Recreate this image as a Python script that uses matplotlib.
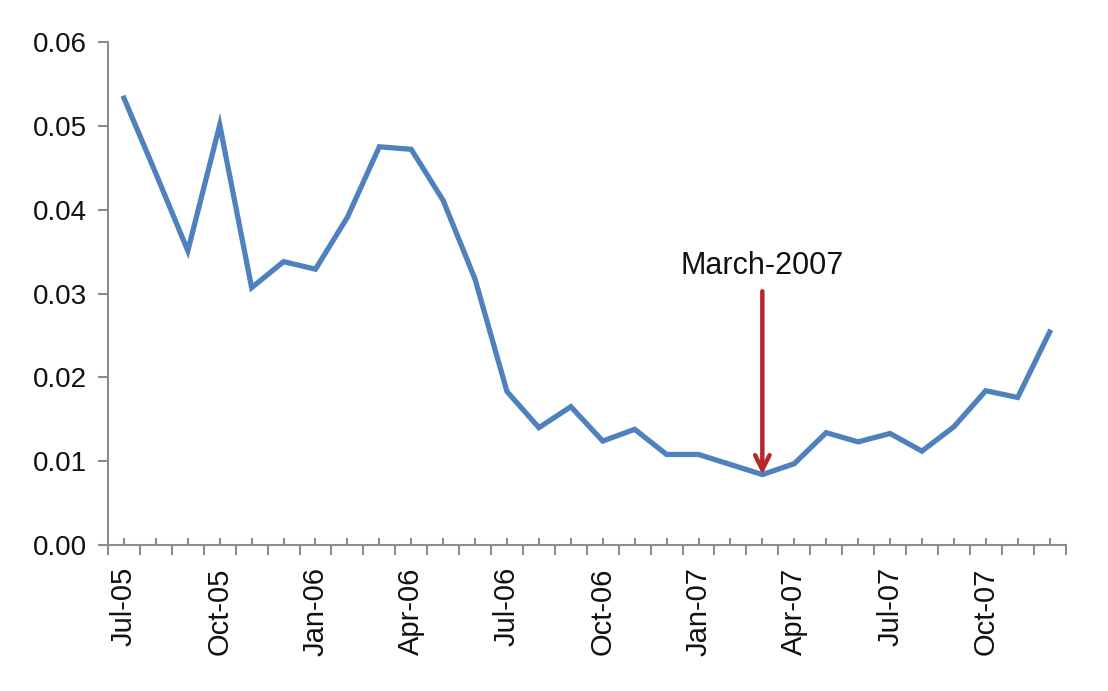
import matplotlib
matplotlib.use("Agg")
import matplotlib.pyplot as plt
import numpy as np

plt.rcParams['font.family'] = ['Liberation Sans', 'DejaVu Sans']

months = ["Jul-05", "Aug-05", "Sep-05", "Oct-05", "Nov-05", "Dec-05",
          "Jan-06", "Feb-06", "Mar-06", "Apr-06", "May-06", "Jun-06",
          "Jul-06", "Aug-06", "Sep-06", "Oct-06", "Nov-06", "Dec-06",
          "Jan-07", "Feb-07", "Mar-07", "Apr-07", "May-07", "Jun-07",
          "Jul-07", "Aug-07", "Sep-07", "Oct-07", "Nov-07", "Dec-07"]
values = [0.0533, 0.0443, 0.0351, 0.0501, 0.0307, 0.0338,
          0.0329, 0.0391, 0.0475, 0.0472, 0.0411, 0.0317,
          0.0183, 0.0140, 0.0165, 0.0124, 0.0138, 0.0108,
          0.0108, 0.0096, 0.0084, 0.0097, 0.0134, 0.0123,
          0.0133, 0.0112, 0.0141, 0.0184, 0.0176, 0.0254]
label_every = 3
yticks = [0.00, 0.01, 0.02, 0.03, 0.04, 0.05, 0.06]
annot_label = "March-2007"
annot_index = 20

fig = plt.figure(figsize=(11.08, 6.91), dpi=100)
ax = fig.add_axes([0.0975, 0.2113, 0.9617 - 0.0975, 0.9392 - 0.2113])

x = np.arange(len(months))
ax.plot(x, values, color='#4F81BD', lw=3.8, solid_joinstyle='miter')

ax.set_xlim(-0.5, len(months) - 0.5)
ax.set_ylim(0, 0.06)

gray = '#8C8C8C'
for s in ['top', 'right']:
    ax.spines[s].set_visible(False)
for s in ['left', 'bottom']:
    ax.spines[s].set_color(gray)
    ax.spines[s].set_linewidth(1.5)

# y axis
ax.set_yticks(yticks)
ax.set_yticklabels([f"{v:.2f}" for v in yticks])
ax.tick_params(axis='y', direction='out', length=7, width=1.5, color=gray,
               labelsize=20, pad=8, labelcolor='#111111')

# x axis: major ticks at category boundaries (out), minor at categories (in) with labels
bounds = np.arange(-0.5, len(months), 1.0)
ax.set_xticks(bounds)
ax.set_xticklabels([''] * len(bounds))
ax.set_xticks(x, [m if i % label_every == 0 else '' for i, m in enumerate(months)], minor=True)
ax.tick_params(axis='x', which='major', direction='out', length=7, width=1.5, color=gray)
ax.tick_params(axis='x', which='minor', direction='in', length=5, width=1.5, color=gray,
               labelsize=21, pad=16, labelrotation=90, labelcolor='#111111')

yv = values[annot_index]
ax.annotate('', xy=(annot_index, yv), xytext=(0, 132), textcoords='offset points',
            arrowprops=dict(arrowstyle='->', color='#B5282E', lw=3.2,
                            shrinkA=0, shrinkB=0, mutation_scale=26))
ax.annotate(annot_label, xy=(annot_index, yv), xytext=(0, 150), textcoords='offset points',
            ha='center', va='center', fontsize=22, color='#111111')

fig.savefig('out.png', dpi=100)
